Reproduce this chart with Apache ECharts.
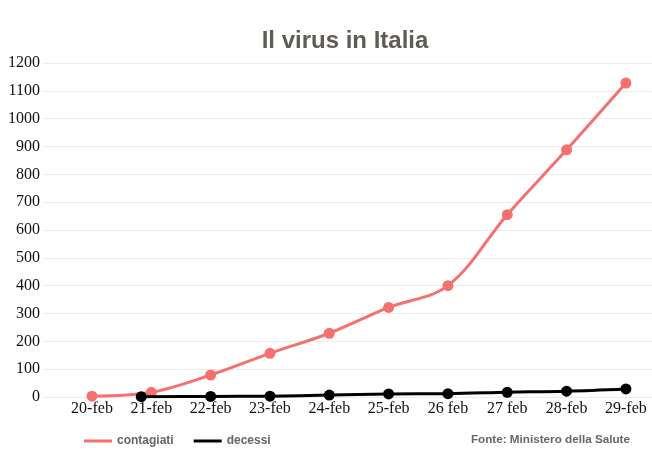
<!DOCTYPE html>
<html><head><meta charset="utf-8">
<script src="https://cdn.jsdelivr.net/npm/echarts@6/dist/echarts.min.js"></script>
<style>html,body{margin:0;padding:0;background:#fff}#c{width:652px;height:454px}</style>
</head><body><div id="c"></div>
<script>
var categories = ['20-feb','21-feb','22-feb','23-feb','24-feb','25-feb','26 feb','27 feb','28-feb','29-feb'];
var contagiatiX = [0,1,2,3,4,5,6,7,8,9];
var contagiati = [3,17,79,157,229,322,400,655,888,1128];
var decessiX = [0.83,2,3,4,5,6,7,8,9];
var decessi = [1,2,3,7,11,12,17,21,29];

function pairs(xs, ys){ return xs.map(function(x,i){ return [x, ys[i]]; }); }

var chart = echarts.init(document.getElementById('c'), null, {renderer:'canvas'});
chart.setOption({
  animation:false,
  title:[{
    text:'Il virus in Italia', left:340, top:24, textAlign:'center',
    textStyle:{fontFamily:'Liberation Sans Narrow, Arial Narrow, Liberation Sans, sans-serif', fontWeight:'bold', fontSize:24, color:'#5f5c56'}
  },{
    text:'Fonte: Ministero della Salute', right:17, top:429,
    textStyle:{fontFamily:'Liberation Sans Narrow, Liberation Sans, sans-serif', fontWeight:'bold', fontSize:11.7, color:'#666'}
  }],
  legend:{
    left:79, top:430, itemWidth:28, itemHeight:3, itemGap:20,
    icon:'rect',
    textStyle:{fontFamily:'Liberation Sans Narrow, Liberation Sans, sans-serif', fontWeight:'bold', fontSize:12, color:'#666', padding:0},
    data:['contagiati','decessi']
  },
  grid:{left:43, right:0, top:63, bottom:57, containLabel:false},
  xAxis:{
    type:'value', min:-0.826, max:9.44,
    axisLine:{show:false}, axisTick:{show:false}, splitLine:{show:false},
    axisLabel:{
      customValues:contagiatiX, margin:4,
      fontFamily:'Liberation Serif, Times New Roman, serif', fontSize:16, color:'#111',
      formatter:function(v){ var i=Math.round(v); return categories[i]||''; }
    }
  },
  yAxis:{
    type:'value', min:0, max:1200, interval:100,
    axisLine:{show:false}, axisTick:{show:false},
    splitLine:{lineStyle:{color:'#ebebeb', width:1}},
    axisLabel:{margin:3, fontFamily:'Liberation Serif, Times New Roman, serif', fontSize:16, color:'#111',
      formatter:function(v){ return String(v); }}
  },
  series:[{
    name:'contagiati', type:'line', smooth:0.35,
    data:pairs(contagiatiX, contagiati),
    symbol:'circle', symbolSize:11,
    lineStyle:{color:'#f4716f', width:3},
    itemStyle:{color:'#f4716f'}, z:2
  },{
    name:'decessi', type:'line', smooth:0.35,
    data:pairs(decessiX, decessi),
    symbol:'circle', symbolSize:11,
    lineStyle:{color:'#000', width:3},
    itemStyle:{color:'#000'}, z:3
  }]
});
</script></body></html>
